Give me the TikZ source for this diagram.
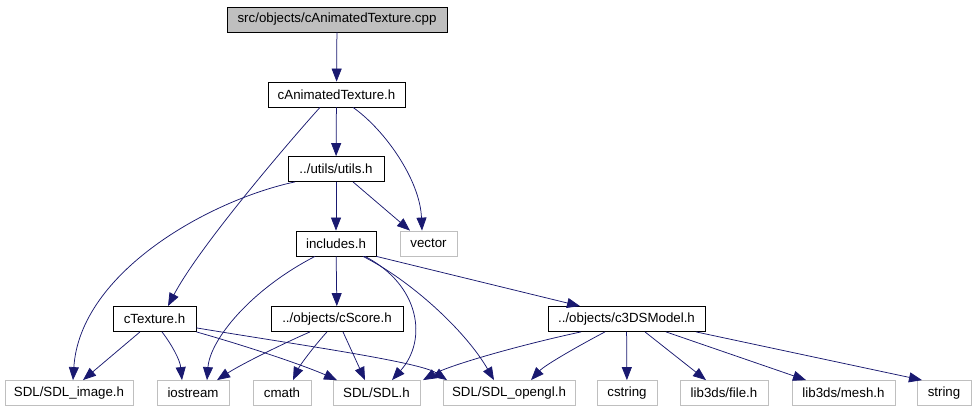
\documentclass[tikz,border=0pt]{standalone}
\usepackage{fontspec}
\setmainfont{Liberation Sans}
\usetikzlibrary{arrows.meta}
\definecolor{edgec}{HTML}{191970}
\definecolor{grayb}{HTML}{BFBFBF}
\begin{document}
\begin{tikzpicture}[x=1pt,y=-1pt,
  box/.style={draw=black, line width=0.8pt, minimum height=25pt, inner sep=0pt,
    font=\fontsize{13.3}{16}\selectfont, anchor=center},
  ext/.style={box, draw=grayb},
  edge/.style={draw=edgec, line width=0.75pt, -{Triangle[length=13pt,width=10pt]}},
]
\useasboundingbox (0,0) rectangle (976,411);
% nodes
\node[box, minimum width=220pt, fill=grayb] (cpp) at (337,19.5) {src/objects/cAnimatedTexture.cpp};
\node[box, minimum width=137pt] (cat) at (336.5,94.5) {cAnimatedTexture.h};
\node[box, minimum width=96pt] (utils) at (336,169) {../utils/utils.h};
\node[box, minimum width=80pt] (inc) at (336,243.5) {includes.h};
\node[ext, minimum width=57pt] (vec) at (428.5,243.5) {vector};
\node[box, minimum width=83pt] (ctex) at (154.5,319) {cTexture.h};
\node[box, minimum width=132pt] (cscore) at (337,319) {../objects/cScore.h};
\node[box, minimum width=157pt] (c3ds) at (626.5,319) {../objects/c3DSModel.h};
\node[ext, minimum width=128pt] (sdlimg) at (69,393) {SDL/SDL\_image.h};
\node[ext, minimum width=72pt] (iostream) at (193,393) {iostream};
\node[ext, minimum width=58pt] (cmath) at (282,393) {cmath};
\node[ext, minimum width=87pt] (sdl) at (376.5,393) {SDL/SDL.h};
\node[ext, minimum width=132pt] (opengl) at (509,393) {SDL/SDL\_opengl.h};
\node[ext, minimum width=60pt] (cstring) at (627,393) {cstring};
\node[ext, minimum width=88pt] (file) at (724,393) {lib3ds/file.h};
\node[ext, minimum width=103pt] (mesh) at (843.5,393) {lib3ds/mesh.h};
\node[ext, minimum width=54pt] (string) at (944,393) {string};
% edges
\draw[edge] (cpp) -- (cat);
\draw[edge] (cat) -- (utils);
\draw[edge] ([xshift=16.5pt]cat.south) .. controls (385,130) and (420,180) .. ([xshift=-6.5pt]vec.north);
\draw[edge] ([xshift=-16.5pt]cat.south) .. controls (295,135) and (200,245) .. ([xshift=13.5pt]ctex.north);
\draw[edge] (utils) -- (inc);
\draw[edge] ([xshift=17pt]utils.south) -- ([xshift=-18.5pt]vec.north);
\draw[edge] ([xshift=-41pt]utils.south) .. controls (210,200) and (80,272) .. ([xshift=4pt]sdlimg.north);
\draw[edge] ([xshift=-21pt]inc.south) .. controls (250,290) and (210,340) .. ([xshift=14pt]iostream.north);
\draw[edge] (inc) -- (cscore);
\draw[edge] ([xshift=29pt]inc.south) .. controls (420,285) and (428,340) .. ([xshift=15.5pt]sdl.north);
\draw[edge] ([xshift=27pt]inc.south) .. controls (410,280) and (465,330) .. ([xshift=-15pt]opengl.north);
\draw[edge] (inc.south east) -- ([xshift=-46.5pt]c3ds.north);
\draw[edge] ([xshift=-14.5pt]ctex.south) -- ([xshift=14pt]sdlimg.north);
\draw[edge] ([xshift=7.5pt]ctex.south) .. controls (172,345) and (180,360) .. ([xshift=-11pt]iostream.north);
\draw[edge] (ctex.south east) .. controls (260,350) and (310,368) .. ([xshift=-39.5pt]sdl.north);
\draw[edge] ([yshift=4pt]ctex.south east) .. controls (300,345) and (420,362) .. ([xshift=-62pt]opengl.north);
\draw[edge] ([xshift=-27pt]cscore.south) .. controls (280,345) and (240,365) .. ([xshift=24pt]iostream.north);
\draw[edge] ([xshift=-10pt]cscore.south) .. controls (315,345) and (300,365) .. ([xshift=11pt]cmath.north);
\draw[edge] ([xshift=6pt]cscore.south) -- ([xshift=-11.5pt]sdl.north);
\draw[edge] ([xshift=-45.5pt]c3ds.south) .. controls (520,345) and (450,365) .. ([xshift=46.5pt]sdl.north);
\draw[edge] ([xshift=-21.5pt]c3ds.south) .. controls (580,345) and (545,365) .. ([xshift=22pt]opengl.north);
\draw[edge] (c3ds) -- (cstring);
\draw[edge] ([xshift=18.5pt]c3ds.south) -- ([xshift=-18pt]file.north);
\draw[edge] ([xshift=39.5pt]c3ds.south) -- ([xshift=-37.5pt]mesh.north);
\draw[edge] ([xshift=69.5pt]c3ds.south) -- ([xshift=-22pt]string.north);
\end{tikzpicture}
\end{document}
